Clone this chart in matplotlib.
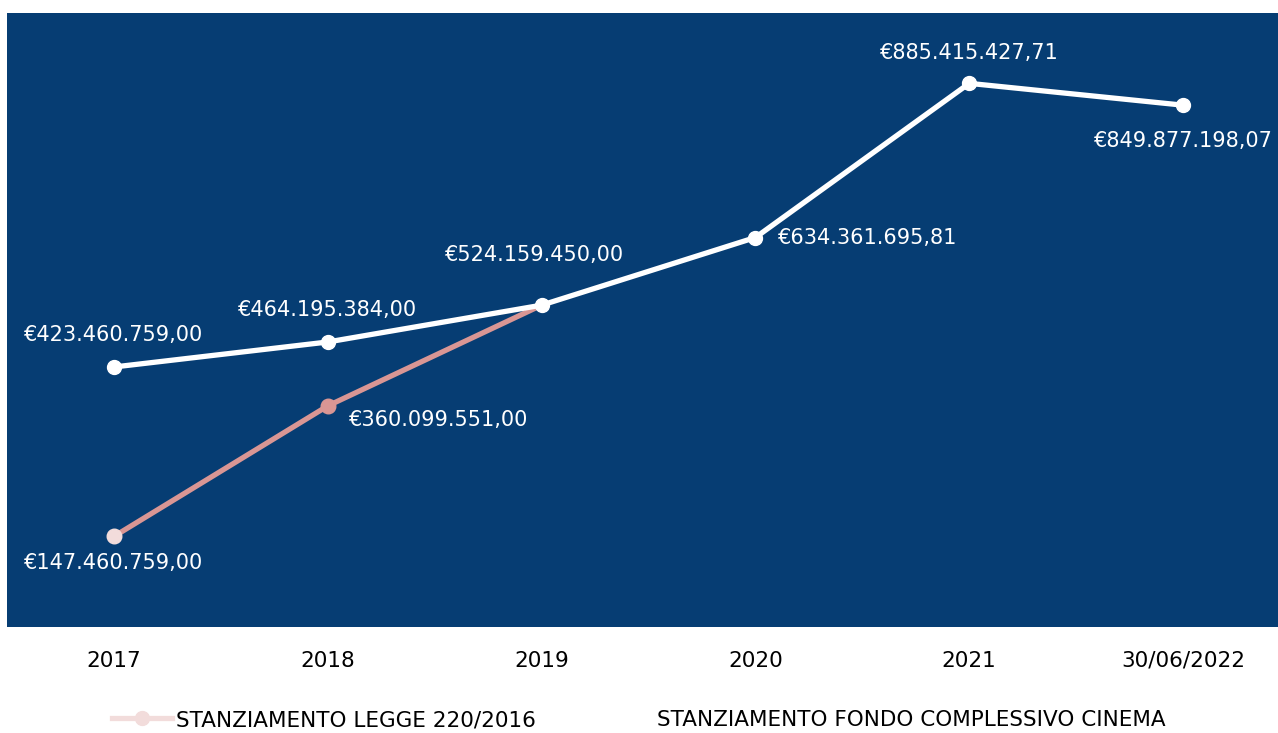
import matplotlib.pyplot as plt
from matplotlib.lines import Line2D

plt.rcParams['font.family'] = ['DejaVu Sans']

categories = ['2017', '2018', '2019', '2020', '2021', '30/06/2022']
fondo = [423460759.00, 464195384.00, 524159450.00, 634361695.81, 885415427.71, 849877198.07]
legge = [147460759.00, 360099551.00, 524159450.00]
fondo_labels = ['€423.460.759,00', '€464.195.384,00', '€524.159.450,00',
                '€634.361.695,81', '€885.415.427,71', '€849.877.198,07']
legge_labels = ['€147.460.759,00', '€360.099.551,00']

bg = '#063D73'
pink = '#D99694'
light_pink = '#F2DCDB'

fig = plt.figure(figsize=(12.78, 7.33), dpi=100)
# plot area runs a bit past the right edge, as in the original
ax = fig.add_axes([7 / 1278, 1 - 627 / 733, 1283 / 1278, 614 / 733])
ax.set_facecolor(bg)
x = list(range(len(categories)))

# legge line (pink), then fondo (white) on top
ax.plot(x[:len(legge)], legge, color=pink, lw=3.8, solid_capstyle='round', zorder=2)
ax.scatter(x[0], legge[0], s=110, color=light_pink, zorder=3)
ax.scatter(x[1], legge[1], s=110, color=pink, zorder=3)
ax.plot(x, fondo, color='white', lw=3.8, marker='o', ms=10, zorder=4)

ax.set_xlim(-0.5, len(categories) - 0.5)
ax.set_ylim(0, 1e9)
ax.set_xticks(x)
ax.set_xticklabels(categories, fontsize=15.5)
ax.set_yticks([])
ax.tick_params(axis='x', length=0, pad=17)
for s in ax.spines.values():
    s.set_visible(False)

fs = 15
# offsets in points for fondo labels
offs = [(0, 23, 'center'), (0, 23, 'center'), (-5, 36, 'center'),
        (16, 0, 'left'), (0, 22, 'center'), (0, -26, 'center')]
for i, (lab, (dx, dy, ha)) in enumerate(zip(fondo_labels, offs)):
    ax.annotate(lab, (x[i], fondo[i]), xytext=(dx, dy), textcoords='offset points',
                ha=ha, va='center', color='white', fontsize=fs)
ax.annotate(legge_labels[0], (x[0], legge[0]), xytext=(0, -19), textcoords='offset points',
            ha='center', va='center', color='white', fontsize=fs)
ax.annotate(legge_labels[1], (x[1], legge[1]), xytext=(15, -10), textcoords='offset points',
            ha='left', va='center', color='white', fontsize=fs)

handles = [Line2D([], [], color=light_pink, lw=3.8, marker='o', ms=10),
           Line2D([], [], color='white', lw=3.8, marker='o', ms=10)]
fig.legend(handles, ['STANZIAMENTO LEGGE 220/2016', 'STANZIAMENTO FONDO COMPLESSIVO CINEMA'],
           loc='center', bbox_to_anchor=(0.5, 1 - 720 / 733), ncol=2, frameon=False,
           fontsize=15.5, handlelength=2.8, handletextpad=0.15, columnspacing=2.7)

fig.savefig('out.png', dpi=100)
